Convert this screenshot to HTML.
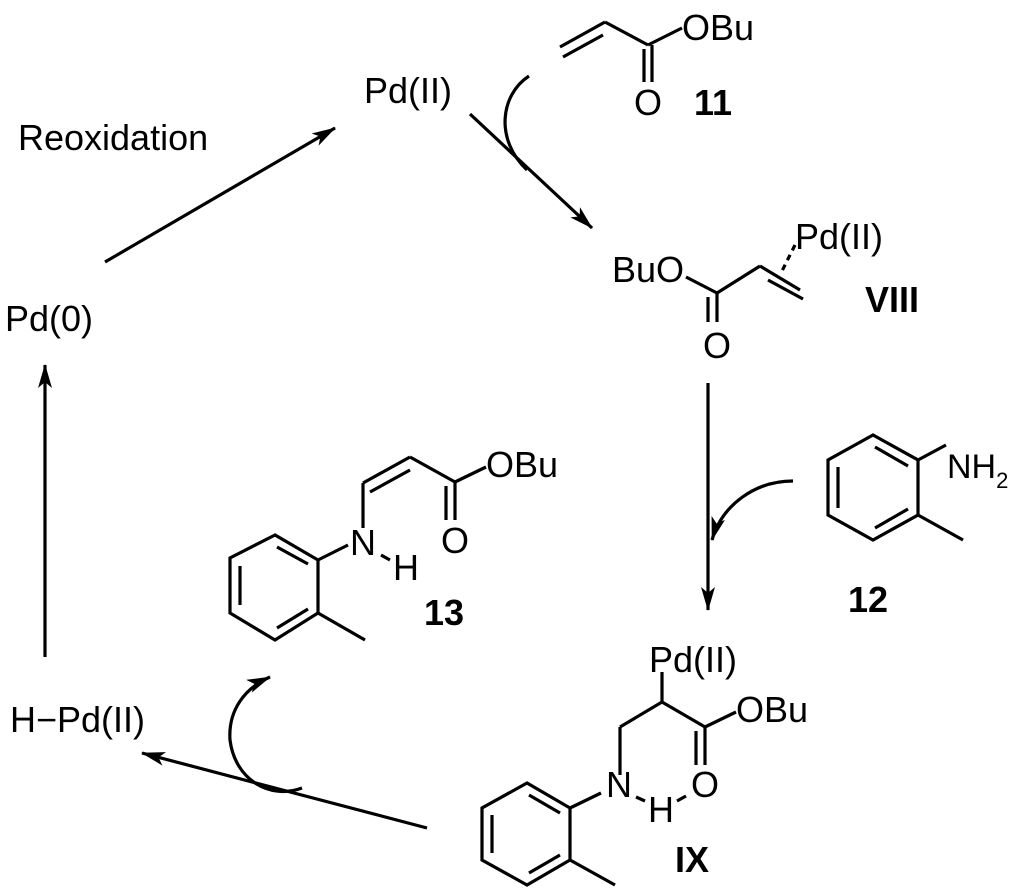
<!DOCTYPE html>
<html><head><meta charset="utf-8"><style>html,body{margin:0;padding:0;background:#fff}svg{display:block}</style></head>
<body>
<svg width="1024" height="892" viewBox="0 0 1024 892" xmlns="http://www.w3.org/2000/svg" font-family="'Liberation Sans', sans-serif" font-size="36">
<defs>
<marker id="ah" viewBox="0 0 24 14" refX="23" refY="7" markerWidth="24" markerHeight="14" markerUnits="userSpaceOnUse" orient="auto">
<path d="M0,0 L24,7 L0,14 L6,7 Z" fill="#000"/>
</marker>
</defs>
<g stroke="#000" stroke-width="3.2" fill="none" stroke-linecap="butt">
<line x1="105" y1="262" x2="335" y2="128" marker-end="url(#ah)"/>
<line x1="470" y1="114" x2="592" y2="228" marker-end="url(#ah)"/>
<line x1="708" y1="383" x2="708" y2="610" marker-end="url(#ah)"/>
<line x1="427" y1="828" x2="142" y2="753" marker-end="url(#ah)"/>
<line x1="45" y1="657" x2="45" y2="365" marker-end="url(#ah)"/>
<path d="M529,76 C500,95 495,140 527,170" />
<path d="M793,481 C755,481 722,505 712,540" marker-end="url(#ah)"/>
<path d="M302,788 C270,800 235,780 230,740 C228,710 245,688 270,677" marker-end="url(#ah)"/>
<!-- acrylate 11 -->
<line x1="560" y1="47" x2="605" y2="22"/><line x1="563" y1="57" x2="603" y2="35"/>
<line x1="605" y1="22" x2="648" y2="45"/>
<line x1="652" y1="45" x2="652" y2="82"/><line x1="644" y1="49" x2="644" y2="82"/>
<line x1="648" y1="45" x2="682" y2="28"/>
<!-- VIII -->
<line x1="686" y1="277" x2="717" y2="293"/>
<line x1="717" y1="293" x2="717" y2="322"/><line x1="708" y1="297" x2="708" y2="322"/>
<line x1="717" y1="293" x2="760" y2="266"/>
<line x1="760" y1="266" x2="800" y2="290"/><line x1="768" y1="280" x2="803" y2="299"/>
<line x1="795" y1="245" x2="781" y2="273" stroke-dasharray="6,5"/>
<!-- 12 -->
<path d="M873,435 L828,460 L828,515 L873,540 L918,515 L918,460 Z"/>
<line x1="838" y1="467" x2="838" y2="508"/><line x1="875" y1="447" x2="908" y2="466"/><line x1="875" y1="528" x2="908" y2="509"/>
<line x1="918" y1="460" x2="946" y2="445"/><line x1="918" y1="515" x2="963" y2="540"/>
<!-- 13 -->
<path d="M275,535 L230,558 L230,613 L275,640 L318,613 L318,560 Z"/>
<line x1="240" y1="566" x2="240" y2="605"/><line x1="277" y1="547" x2="308" y2="564"/><line x1="277" y1="628" x2="308" y2="609"/>
<line x1="318" y1="560" x2="348" y2="545"/><line x1="318" y1="613" x2="365" y2="640"/>
<line x1="363" y1="528" x2="363" y2="483"/>
<line x1="363" y1="483" x2="410" y2="457"/><line x1="370" y1="492" x2="410" y2="470"/>
<line x1="410" y1="457" x2="455" y2="482"/>
<line x1="455" y1="482" x2="455" y2="520"/><line x1="446" y1="486" x2="446" y2="520"/>
<line x1="455" y1="482" x2="486" y2="467"/>
<line x1="381" y1="555" x2="390" y2="560"/>
<!-- IX -->
<path d="M527,783 L482,808 L482,860 L527,885 L570,860 L570,808 Z"/>
<line x1="492" y1="815" x2="492" y2="853"/><line x1="529" y1="795" x2="560" y2="813"/><line x1="529" y1="873" x2="560" y2="855"/>
<line x1="570" y1="808" x2="601" y2="793"/><line x1="570" y1="860" x2="615" y2="885"/>
<line x1="620" y1="775" x2="620" y2="727"/>
<line x1="620" y1="727" x2="662" y2="702"/>
<line x1="662" y1="702" x2="662" y2="672"/>
<line x1="662" y1="702" x2="705" y2="727"/>
<line x1="705" y1="727" x2="705" y2="765"/><line x1="696" y1="731" x2="696" y2="765"/>
<line x1="705" y1="727" x2="736" y2="712"/>
<line x1="636" y1="797" x2="645" y2="801"/><line x1="677" y1="801" x2="686" y2="796"/>
</g>
<g fill="#000">
<text x="364" y="103">Pd(II)</text>
<text x="18" y="150">Reoxidation</text>
<text x="5" y="331">Pd(0)</text>
<text x="10" y="732">H−Pd(II)</text>
<text x="682" y="40">OBu</text>
<text x="634" y="115">O</text>
<text x="694" y="115" font-weight="bold">11</text>
<text x="795" y="249">Pd(II)</text>
<text x="612" y="282">BuO</text>
<text x="703" y="358">O</text>
<text x="865" y="312" font-weight="bold">VIII</text>
<text x="947" y="478" font-size="34">NH<tspan font-size="22" dy="10">2</tspan></text>
<text x="848" y="612" font-weight="bold">12</text>
<text x="486" y="477">OBu</text>
<text x="441" y="553">O</text>
<text x="350" y="555">N</text>
<text x="393" y="580">H</text>
<text x="424" y="625" font-weight="bold">13</text>
<text x="649" y="672">Pd(II)</text>
<text x="736" y="722">OBu</text>
<text x="691" y="797">O</text>
<text x="606" y="797">N</text>
<text x="648" y="822">H</text>
<text x="675" y="872" font-weight="bold">IX</text>
</g>
</svg>
</body></html>
